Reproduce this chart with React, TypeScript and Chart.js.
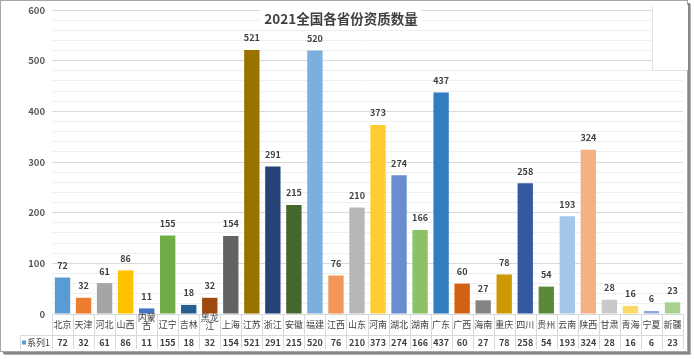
import React, { useEffect, useRef } from "react";
import { Chart, registerables } from "chart.js";

Chart.register(...registerables);

const TITLE = "2021全国各省份资质数量";
const SERIES_NAME = "系列1";
const provinces = [
  "北京", "天津", "河北", "山西", "内蒙古", "辽宁", "吉林", "黑龙江", "上海", "江苏",
  "浙江", "安徽", "福建", "江西", "山东", "河南", "湖北", "湖南", "广东", "广西",
  "海南", "重庆", "四川", "贵州", "云南", "陕西", "甘肃", "青海", "宁夏", "新疆",
];
const values = [
  72, 32, 61, 86, 11, 155, 18, 32, 154, 521,
  291, 215, 520, 76, 210, 373, 274, 166, 437, 60,
  27, 78, 258, 54, 193, 324, 28, 16, 6, 23,
];
const barColors = [
  "#5B9BD5", "#ED7D31", "#A5A5A5", "#FFC000", "#4472C4", "#70AD47", "#255E91", "#9E480E", "#636363", "#997300",
  "#264478", "#43682B", "#7CAFDD", "#F1975A", "#B7B7B7", "#FFCD33", "#698ED0", "#8CC168", "#327DC2", "#D26012",
  "#848484", "#CC9A00", "#335AA1", "#5A8A39", "#A3C7E7", "#F4B183", "#C9C9C9", "#FFD966", "#8FAADC", "#A9D18E",
];
const yMax = 600;
const yMajor = 100;
const yMinor = 20;

const FONT = "'Noto Sans CJK SC', 'Noto Sans', sans-serif";
const TEXT = "#404040";
const LINE = "#d9d9d9";

function splitLabel(s: string): string[] {
  return s.length > 2 ? [s.slice(0, 2), s.slice(2)] : [s];
}

const framePlugin = {
  id: "frame",
  beforeDraw(chart: any) {
    const c = chart.ctx;
    c.save();
    c.fillStyle = "#ffffff";
    c.fillRect(0, 0, chart.width, chart.height);
    c.fillStyle = "#b0b0b0";
    c.fillRect(4, 4, 687, 351);
    c.fillStyle = "#888888";
    c.fillRect(3, 3, 687, 351);
    c.fillStyle = "#ffffff";
    c.fillRect(0, 0, 688, 352);
    c.strokeStyle = "#a6a6a6";
    c.lineWidth = 1;
    c.strokeRect(0.5, 0.5, 687, 351);
    c.restore();
  },
  afterDatasetsDraw(chart: any) {
    const c = chart.ctx;
    const x = chart.scales.x;
    const y = chart.scales.y;
    const area = chart.chartArea;
    c.save();
    c.font = `bold 9px ${FONT}`;
    c.fillStyle = TEXT;
    c.textAlign = "center";
    c.textBaseline = "middle";
    values.forEach((v, i) => {
      c.fillText(String(v), x.getPixelForValue(i), y.getPixelForValue(v) - 12);
    });
    const half = (x.getPixelForValue(1) - x.getPixelForValue(0)) / 2;
    const rowTop = area.bottom;
    const rowMid = x.bottom;
    const rowBot = rowMid + 14;
    c.strokeStyle = LINE;
    c.lineWidth = 1;
    c.beginPath();
    for (let i = 0; i <= values.length; i++) {
      const px = Math.round(x.getPixelForValue(i) - half) + 0.5;
      c.moveTo(px, rowTop);
      c.lineTo(px, rowBot);
    }
    c.moveTo(20.5, rowMid);
    c.lineTo(20.5, rowBot);
    c.moveTo(20, Math.round(rowMid) + 0.5);
    c.lineTo(area.right, Math.round(rowMid) + 0.5);
    c.stroke();
    c.font = `9px ${FONT}`;
    c.fillStyle = TEXT;
    provinces.forEach((p, i) => {
      const lines = splitLabel(p);
      const px = x.getPixelForValue(i);
      if (lines.length === 1) {
        c.fillText(lines[0], px, rowTop + 10.5);
      } else {
        c.fillText(lines[0], px, rowTop + 4);
        c.fillText(lines[1], px, rowTop + 11.5);
      }
    });
    c.font = `bold 9px ${FONT}`;
    values.forEach((v, i) => {
      c.fillText(String(v), x.getPixelForValue(i), rowMid + 7.5);
    });
    c.font = `9px ${FONT}`;
    c.textAlign = "left";
    c.fillText(SERIES_NAME, 27, rowMid + 7.5);
    c.fillStyle = barColors[0];
    c.fillRect(22, rowMid + 5.5, 4, 4);
    c.fillStyle = "#ffffff";
    c.fillRect(652, 5, 36, 65);
    c.strokeStyle = "#e3e3e3";
    c.beginPath();
    c.moveTo(652.5, 5);
    c.lineTo(652.5, 70.5);
    c.lineTo(687, 70.5);
    c.stroke();
    c.font = `bold 13.5px ${FONT}`;
    const tw = c.measureText(TITLE).width;
    c.fillStyle = "#ffffff";
    c.fillRect(341 - tw / 2 - 4, 10, tw + 8, 17);
    c.fillStyle = TEXT;
    c.textAlign = "center";
    c.textBaseline = "middle";
    c.fillText(TITLE, 341, 18.5);
    c.restore();
  },
};

export default function App() {
  const ref = useRef<HTMLCanvasElement>(null);
  useEffect(() => {
    document.body.style.margin = "0";
    const chart = new Chart(ref.current!, {
      type: "bar",
      data: {
        labels: provinces,
        datasets: [
          {
            label: SERIES_NAME,
            data: values,
            backgroundColor: barColors,
            borderWidth: 0,
            categoryPercentage: 1,
            barPercentage: 0.73,
          },
        ],
      },
      options: {
        responsive: false,
        animation: false,
        devicePixelRatio: 1,
        layout: { padding: { left: 0, right: 11, top: 10, bottom: 24 } },
        plugins: {
          legend: { display: false },
          title: { display: false },
          tooltip: { enabled: false },
        },
        scales: {
          x: {
            grid: { display: false },
            border: { display: true, color: LINE },
            ticks: { display: false },
            afterFit: (s: any) => {
              s.height = 21;
              s.paddingLeft = 0;
              s.paddingRight = 0;
            },
          },
          y: {
            min: 0,
            max: yMax,
            grid: {
              drawTicks: false,
              color: (ctx: any) =>
                ctx.tick && ctx.tick.value % yMajor === 0 ? "#d9d9d9" : "#efefef",
            },
            border: { display: false },
            ticks: {
              stepSize: yMinor,
              autoSkip: false,
              padding: 7,
              color: "#595959",
              font: { family: FONT, size: 9.5, weight: "bold" },
              callback: (v: any) => (Number(v) % yMajor === 0 ? String(v) : ""),
            },
            afterFit: (s: any) => {
              s.width = 52;
              s.paddingTop = 0;
              s.paddingBottom = 0;
            },
          },
        },
      },
      plugins: [framePlugin],
    });
    return () => chart.destroy();
  }, []);
  return (
    <div style={{ position: "absolute", left: 0, top: 0, width: 694, height: 359 }}>
      <canvas ref={ref} width={694} height={359} style={{ width: 694, height: 359 }} />
    </div>
  );
}
